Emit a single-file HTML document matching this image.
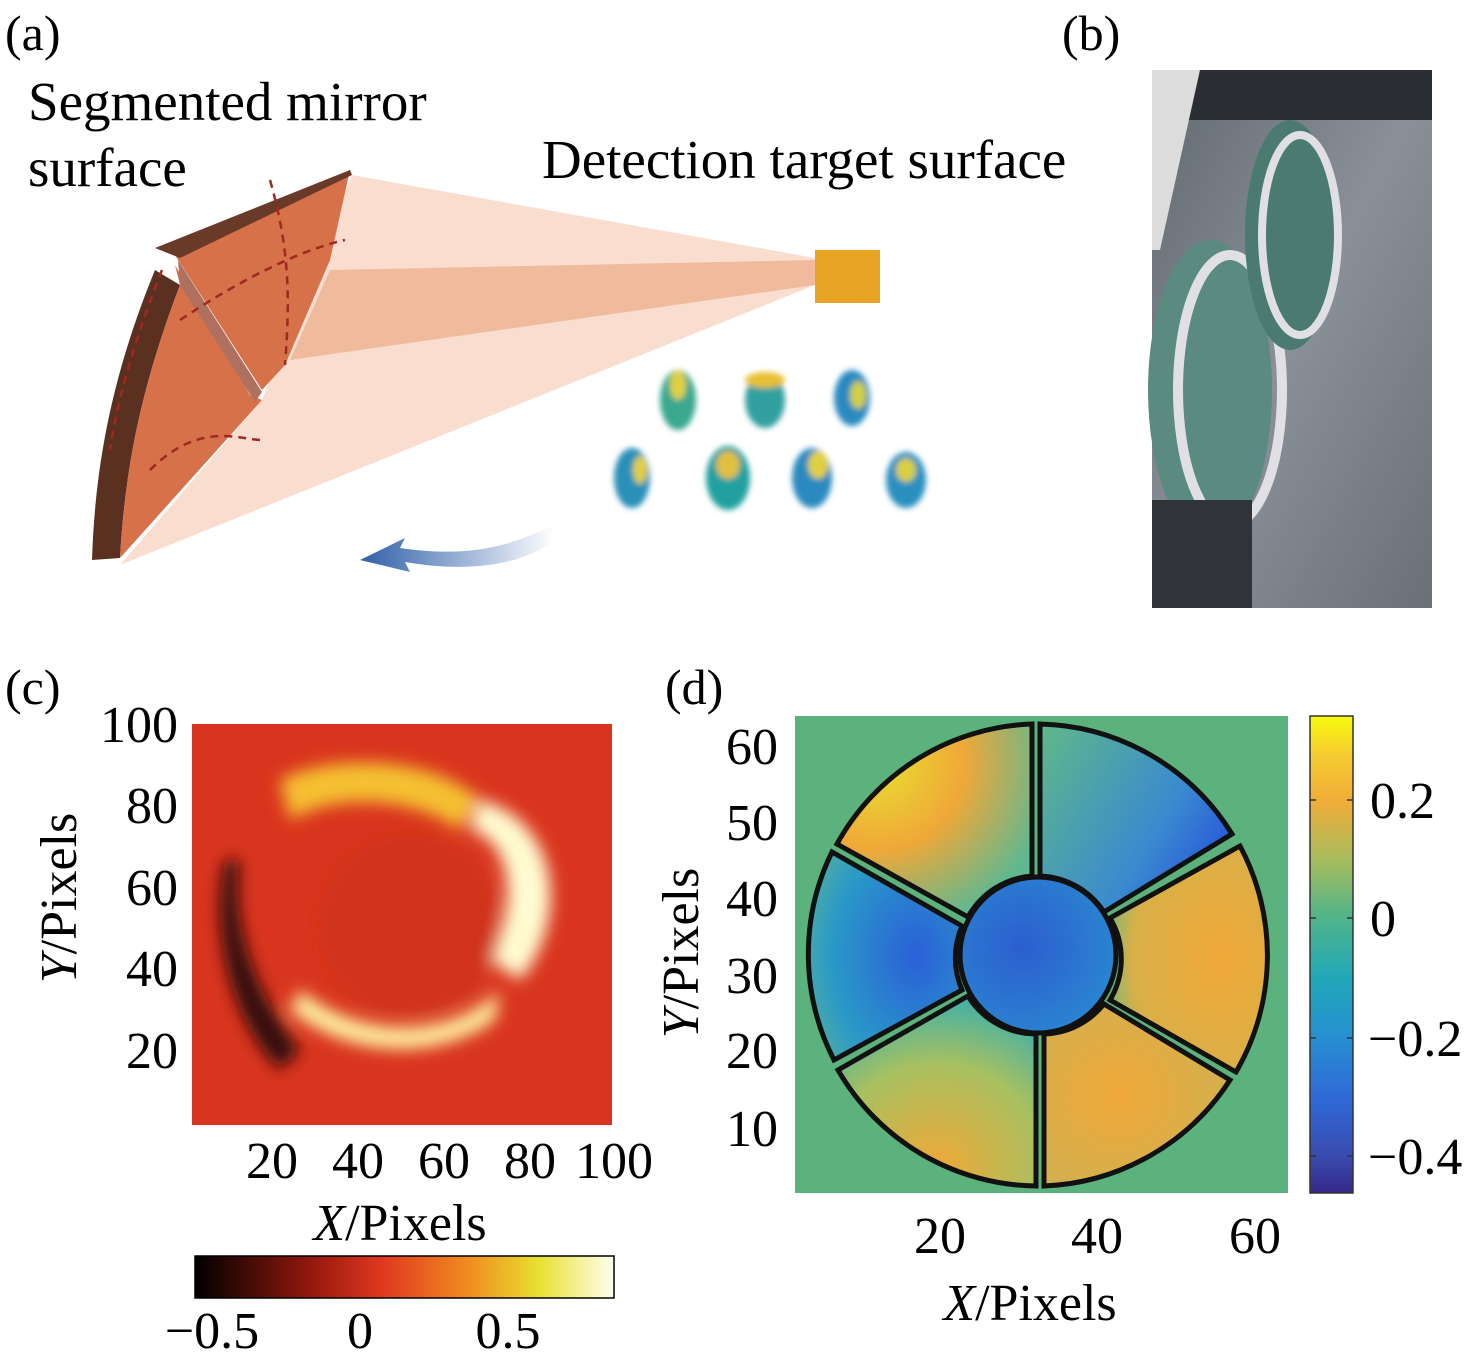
<!DOCTYPE html>
<html><head><meta charset="utf-8"><style>
body{margin:0;background:#fff;}
svg{display:block;font-family:"Liberation Serif",serif;}
</style></head><body>
<svg width="1476" height="1358" viewBox="0 0 1476 1358" xmlns="http://www.w3.org/2000/svg">
<defs>
<linearGradient id="parula" x1="0" y1="1" x2="0" y2="0">
<stop offset="0" stop-color="#35288a"/><stop offset="0.08" stop-color="#3a4cb0"/><stop offset="0.2" stop-color="#2f6ad8"/><stop offset="0.33" stop-color="#2690d0"/><stop offset="0.45" stop-color="#20a8b8"/><stop offset="0.58" stop-color="#52b48a"/><stop offset="0.7" stop-color="#a8bc5c"/><stop offset="0.82" stop-color="#f0ad38"/><stop offset="0.92" stop-color="#f5cc30"/><stop offset="1" stop-color="#f9fb0e"/></linearGradient>
<linearGradient id="hot" x1="0" x2="1">
<stop offset="0" stop-color="#000"/><stop offset="0.3" stop-color="#a01a10"/><stop offset="0.45" stop-color="#e03a20"/><stop offset="0.65" stop-color="#f08a20"/><stop offset="0.82" stop-color="#e8e030"/><stop offset="1" stop-color="#fffff0"/></linearGradient>
<linearGradient id="arrow" x1="0" x2="1"><stop offset="0" stop-color="#2f5fa8"/><stop offset="1" stop-color="#ffffff"/></linearGradient>
<linearGradient id="photo" x1="0" y1="0" x2="1" y2="1"><stop offset="0" stop-color="#606870"/><stop offset="0.5" stop-color="#8a9098"/><stop offset="1" stop-color="#6a7078"/></linearGradient>
<filter id="blur"><feGaussianBlur stdDeviation="8"/></filter>
<filter id="blur2"><feGaussianBlur stdDeviation="3"/></filter>
<radialGradient id="seg1" cx="0.2" cy="0.2" r="0.9"><stop offset="0" stop-color="#e8e030"/><stop offset="0.5" stop-color="#f0a838"/><stop offset="1" stop-color="#60b890"/></radialGradient>
<linearGradient id="seg2" x1="0" y1="0" x2="1" y2="0.6"><stop offset="0" stop-color="#60b888"/><stop offset="0.7" stop-color="#3a8ad0"/><stop offset="1" stop-color="#2a5ad8"/></linearGradient>
<radialGradient id="seg3" cx="0.7" cy="0.5" r="0.8"><stop offset="0" stop-color="#f0a838"/><stop offset="0.7" stop-color="#d8b048"/><stop offset="1" stop-color="#60b888"/></radialGradient>
<radialGradient id="seg4" cx="0.4" cy="0.5" r="0.9"><stop offset="0" stop-color="#f0a838"/><stop offset="0.7" stop-color="#d0b050"/><stop offset="1" stop-color="#3a7ad8"/></radialGradient>
<radialGradient id="seg5" cx="0.5" cy="0.9" r="0.9"><stop offset="0" stop-color="#f0a838"/><stop offset="0.6" stop-color="#a8c060"/><stop offset="1" stop-color="#40b0a8"/></radialGradient>
<radialGradient id="seg6" cx="0.7" cy="0.5" r="0.9"><stop offset="0" stop-color="#2a60d8"/><stop offset="0.6" stop-color="#2a98c8"/><stop offset="1" stop-color="#60b890"/></radialGradient>
<radialGradient id="cen" cx="0.4" cy="0.45" r="0.7"><stop offset="0" stop-color="#2c5ed0"/><stop offset="1" stop-color="#2a8ad0"/></radialGradient>
<clipPath id="cclip"><rect x="192" y="724" width="420" height="401"/></clipPath>
</defs>

<!-- (a) -->
<text x="5" y="50" font-size="50">(a)</text>
<text x="28" y="120" font-size="55">Segmented mirror</text>
<text x="28" y="186" font-size="55">surface</text>
<text x="542" y="178" font-size="55">Detection target surface</text>
<polygon points="120,565 262,400 352,175 815,258 815,285" fill="#f7d6c4" opacity="0.8"/>
<polygon points="330,270 290,360 815,285 815,260" fill="#eeb08e" opacity="0.8"/>
<path d="M155,270 C110,380 95,470 92,560 L120,558 C125,470 140,390 180,285 Z" fill="#5a3020"/>
<path d="M180,285 C140,390 125,470 120,558 L262,400 L250,395 L175,265 Z" fill="#d6714a"/>
<path d="M180,285 L178,260 L262,392 L255,402 Z" fill="#b07060"/>
<path d="M175,255 L350,170 L330,260 L285,365 L262,390 Z" fill="#d6714a"/>
<path d="M155,248 L350,170 L352,175 L180,258 Z" fill="#6a3a28"/>
<path d="M162,270 C150,300 120,380 110,450 M270,180 C290,250 290,300 285,365 M180,320 C240,280 300,250 345,240 M150,470 C200,420 240,440 262,440" stroke="#a02820" stroke-width="2.5" stroke-dasharray="8,6" fill="none"/>
<rect x="815" y="250" width="65" height="53" fill="#e8a524"/>
<g filter="url(#blur2)">
<ellipse cx="678" cy="400" rx="18" ry="30" fill="#3aa890"/><ellipse cx="678" cy="385" rx="8" ry="15" fill="#e0d040"/>
<ellipse cx="765" cy="400" rx="20" ry="28" fill="#30a0a0"/><ellipse cx="765" cy="380" rx="20" ry="8" fill="#e8c030"/>
<ellipse cx="852" cy="398" rx="18" ry="28" fill="#2a8ac0"/><ellipse cx="858" cy="395" rx="8" ry="14" fill="#d0d040"/>
<ellipse cx="632" cy="478" rx="18" ry="30" fill="#2a90b8"/><ellipse cx="640" cy="470" rx="7" ry="14" fill="#e0d040"/>
<ellipse cx="728" cy="478" rx="22" ry="32" fill="#20a0a0"/><ellipse cx="728" cy="465" rx="12" ry="14" fill="#e0c040"/>
<ellipse cx="812" cy="478" rx="20" ry="30" fill="#2a8ac0"/><ellipse cx="818" cy="465" rx="10" ry="14" fill="#e0d040"/>
<ellipse cx="906" cy="480" rx="20" ry="28" fill="#2a90c0"/><ellipse cx="906" cy="470" rx="10" ry="12" fill="#d8d040"/>
</g>
<path d="M555,525 C520,540 480,560 400,548 L405,538 L360,560 L410,572 L405,562 C480,575 530,560 555,540 Z" fill="url(#arrow)"/>

<!-- (b) -->
<text x="1062" y="50" font-size="50">(b)</text>
<rect x="1152" y="70" width="280" height="538" fill="url(#photo)"/>
<rect x="1152" y="70" width="280" height="50" fill="#2a2e34"/>
<polygon points="1152,70 1200,70 1160,250 1152,250" fill="#dcdcdc"/>
<ellipse cx="1210" cy="390" rx="62" ry="150" fill="#5a8a80"/>
<ellipse cx="1230" cy="390" rx="52" ry="135" fill="none" stroke="#e0e0e4" stroke-width="10"/>
<ellipse cx="1290" cy="235" rx="45" ry="115" fill="#4a7a70"/>
<ellipse cx="1300" cy="235" rx="38" ry="100" fill="none" stroke="#e0e0e4" stroke-width="8"/>
<rect x="1152" y="500" width="100" height="108" fill="#303438"/>

<!-- (c) -->
<text x="5" y="704" font-size="50">(c)</text>
<rect x="192" y="724" width="420" height="401" fill="#d9351e"/>
<g clip-path="url(#cclip)" filter="url(#blur)">
<path d="M480,800 C560,820 570,920 520,980 L490,960 C520,900 510,840 470,830 Z" fill="#fffbd0"/>
<path d="M300,990 C360,1040 450,1040 500,990 L495,1020 C440,1060 350,1060 290,1010 Z" fill="#fff0a0"/>
<path d="M280,780 C340,750 440,760 480,800 L460,830 C420,800 340,790 290,820 Z" fill="#f5c030"/>
<path d="M240,860 C230,930 260,1000 300,1050 L280,1070 C230,1020 210,930 225,860 Z" fill="#300a08"/>
<circle cx="410" cy="925" r="90" fill="#c83018" opacity="0.5"/>
</g>
<g font-size="52" text-anchor="end">
<text x="178" y="742">100</text><text x="178" y="823">80</text><text x="178" y="905">60</text><text x="178" y="986">40</text><text x="178" y="1068">20</text>
</g>
<g font-size="52" text-anchor="middle">
<text x="272" y="1178">20</text><text x="358" y="1178">40</text><text x="444" y="1178">60</text><text x="530" y="1178">80</text><text x="614" y="1178">100</text>
<text x="400" y="1240"><tspan font-style="italic">X</tspan>/Pixels</text>
</g>
<text transform="translate(76,898) rotate(-90)" font-size="52" text-anchor="middle"><tspan font-style="italic">Y</tspan>/Pixels</text>
<rect x="195" y="1256" width="419" height="42" fill="url(#hot)" stroke="#000" stroke-width="1.5"/>
<g font-size="52" text-anchor="middle"><text x="212" y="1348">−0.5</text><text x="360" y="1348">0</text><text x="508" y="1348">0.5</text></g>

<!-- (d) -->
<text x="665" y="704" font-size="50">(d)</text>
<rect x="795" y="716" width="493" height="477" fill="#5cb27c"/>
<g stroke="#111" stroke-width="5">
<path d="M1032,724 A232,232 0 0 0 837,844 L968,917 A80,80 0 0 1 1032,876 Z" fill="url(#seg1)"/>
<path d="M1040,724 A232,232 0 0 1 1232,834 L1104,912 A80,80 0 0 0 1040,876 Z" fill="url(#seg2)"/>
<path d="M1240,846 A232,232 0 0 1 1236,1072 L1110,1000 A80,80 0 0 0 1110,918 Z" fill="url(#seg3)"/>
<path d="M1230,1080 A232,232 0 0 1 1044,1186 L1044,1034 A80,80 0 0 0 1104,1004 Z" fill="url(#seg4)"/>
<path d="M1036,1186 A232,232 0 0 1 838,1070 L968,996 A80,80 0 0 0 1036,1034 Z" fill="url(#seg5)"/>
<path d="M834,1060 A232,232 0 0 1 832,852 L962,926 A80,80 0 0 0 962,990 Z" fill="url(#seg6)"/>
<circle cx="1038" cy="955" r="78" fill="url(#cen)"/>
</g>
<g font-size="52" text-anchor="end">
<text x="778" y="764">60</text><text x="778" y="840">50</text><text x="778" y="916">40</text><text x="778" y="993">30</text><text x="778" y="1068">20</text><text x="778" y="1146">10</text>
</g>
<g font-size="52" text-anchor="middle">
<text x="940" y="1253">20</text><text x="1097" y="1253">40</text><text x="1255" y="1253">60</text>
<text x="1030" y="1320"><tspan font-style="italic">X</tspan>/Pixels</text>
</g>
<text transform="translate(698,953) rotate(-90)" font-size="52" text-anchor="middle"><tspan font-style="italic">Y</tspan>/Pixels</text>
<rect x="1310" y="716" width="43" height="477" fill="url(#parula)" stroke="#333" stroke-width="1.5"/>
<g stroke="#333" stroke-width="1.5"><line x1="1310" y1="800" x2="1316" y2="800"/><line x1="1347" y1="800" x2="1353" y2="800"/><line x1="1310" y1="918" x2="1316" y2="918"/><line x1="1347" y1="918" x2="1353" y2="918"/><line x1="1310" y1="1038" x2="1316" y2="1038"/><line x1="1347" y1="1038" x2="1353" y2="1038"/><line x1="1310" y1="1156" x2="1316" y2="1156"/><line x1="1347" y1="1156" x2="1353" y2="1156"/></g>
<g font-size="52"><text x="1370" y="818">0.2</text><text x="1370" y="936">0</text><text x="1368" y="1056">−0.2</text><text x="1368" y="1174">−0.4</text></g>
</svg>
</body></html>
